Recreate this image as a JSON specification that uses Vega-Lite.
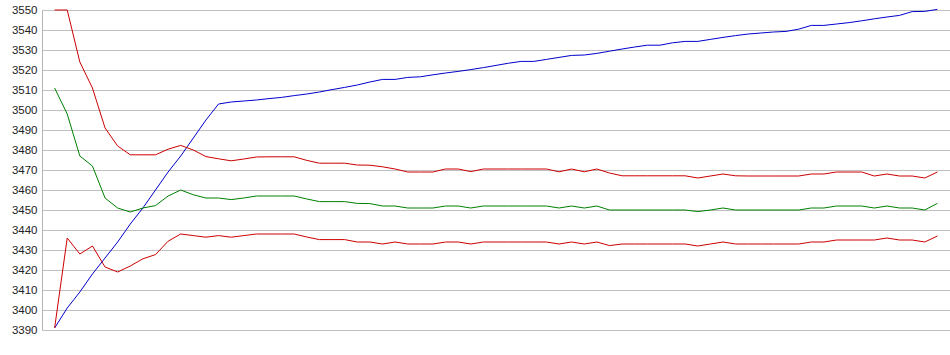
{
  "$schema": "https://vega.github.io/schema/vega-lite/v6.json",
  "autosize": {"type": "none"},
  "width": 908,
  "height": 320,
  "padding": {"left": 42, "top": 10, "right": 0, "bottom": 25},
  "background": "white",
  "config": {"view": {"stroke": null}},
  "data": {"values": [
    {"i": 1, "blue": 3391, "redU": 3550, "green": 3511, "redL": 3391},
    {"i": 2, "blue": 3401, "redU": 3550, "green": 3498, "redL": 3436},
    {"i": 3, "blue": 3409, "redU": 3524, "green": 3477, "redL": 3428},
    {"i": 4, "blue": 3418, "redU": 3511, "green": 3472, "redL": 3432},
    {"i": 5, "blue": 3426, "redU": 3491, "green": 3456, "redL": 3421.5},
    {"i": 6, "blue": 3434, "redU": 3482, "green": 3451, "redL": 3419},
    {"i": 7, "blue": 3443, "redU": 3477.6, "green": 3449, "redL": 3422},
    {"i": 8, "blue": 3451, "redU": 3477.6, "green": 3451, "redL": 3425.6},
    {"i": 9, "blue": 3460, "redU": 3477.6, "green": 3452.2, "redL": 3427.7},
    {"i": 10, "blue": 3469, "redU": 3480.4, "green": 3457, "redL": 3434.4},
    {"i": 11, "blue": 3477, "redU": 3482.3, "green": 3460, "redL": 3438},
    {"i": 12, "blue": 3486, "redU": 3480, "green": 3457.6, "redL": 3437.2},
    {"i": 13, "blue": 3495, "redU": 3476.7, "green": 3456, "redL": 3436.4},
    {"i": 14, "blue": 3503, "redU": 3475.6, "green": 3456, "redL": 3437.2},
    {"i": 15, "blue": 3504, "redU": 3474.6, "green": 3455.2, "redL": 3436.4},
    {"i": 16, "blue": 3504.5, "redU": 3475.5, "green": 3456, "redL": 3437.2},
    {"i": 17, "blue": 3505, "redU": 3476.5, "green": 3457, "redL": 3438},
    {"i": 18, "blue": 3505.7, "redU": 3476.6, "green": 3457, "redL": 3438},
    {"i": 19, "blue": 3506.3, "redU": 3476.6, "green": 3457, "redL": 3438},
    {"i": 20, "blue": 3507.2, "redU": 3476.6, "green": 3457, "redL": 3438},
    {"i": 21, "blue": 3508, "redU": 3474.8, "green": 3455.5, "redL": 3436.5},
    {"i": 22, "blue": 3509, "redU": 3473.4, "green": 3454.2, "redL": 3435.2},
    {"i": 23, "blue": 3510.2, "redU": 3473.4, "green": 3454.2, "redL": 3435.2},
    {"i": 24, "blue": 3511.3, "redU": 3473.4, "green": 3454.2, "redL": 3435.2},
    {"i": 25, "blue": 3512.5, "redU": 3472.5, "green": 3453.3, "redL": 3434},
    {"i": 26, "blue": 3514, "redU": 3472.4, "green": 3453.2, "redL": 3434},
    {"i": 27, "blue": 3515.3, "redU": 3471.6, "green": 3452, "redL": 3433},
    {"i": 28, "blue": 3515.3, "redU": 3470.5, "green": 3452, "redL": 3434},
    {"i": 29, "blue": 3516.3, "redU": 3469, "green": 3451, "redL": 3433},
    {"i": 30, "blue": 3516.6, "redU": 3469, "green": 3451, "redL": 3433},
    {"i": 31, "blue": 3517.6, "redU": 3469, "green": 3451, "redL": 3433},
    {"i": 32, "blue": 3518.5, "redU": 3470.5, "green": 3452, "redL": 3434},
    {"i": 33, "blue": 3519.3, "redU": 3470.5, "green": 3452, "redL": 3434},
    {"i": 34, "blue": 3520.2, "redU": 3469.2, "green": 3451, "redL": 3433},
    {"i": 35, "blue": 3521.2, "redU": 3470.5, "green": 3452, "redL": 3434},
    {"i": 36, "blue": 3522.3, "redU": 3470.5, "green": 3452, "redL": 3434},
    {"i": 37, "blue": 3523.4, "redU": 3470.5, "green": 3452, "redL": 3434},
    {"i": 38, "blue": 3524.3, "redU": 3470.5, "green": 3452, "redL": 3434},
    {"i": 39, "blue": 3524.3, "redU": 3470.5, "green": 3452, "redL": 3434},
    {"i": 40, "blue": 3525.3, "redU": 3470.5, "green": 3452, "redL": 3434},
    {"i": 41, "blue": 3526.3, "redU": 3469.1, "green": 3451, "redL": 3433},
    {"i": 42, "blue": 3527.3, "redU": 3470.5, "green": 3452, "redL": 3434},
    {"i": 43, "blue": 3527.5, "redU": 3469.1, "green": 3451, "redL": 3433},
    {"i": 44, "blue": 3528.3, "redU": 3470.5, "green": 3452, "redL": 3434},
    {"i": 45, "blue": 3529.4, "redU": 3468.5, "green": 3450, "redL": 3432.2},
    {"i": 46, "blue": 3530.5, "redU": 3467.1, "green": 3450, "redL": 3433},
    {"i": 47, "blue": 3531.5, "redU": 3467.1, "green": 3450, "redL": 3433},
    {"i": 48, "blue": 3532.4, "redU": 3467.1, "green": 3450, "redL": 3433},
    {"i": 49, "blue": 3532.4, "redU": 3467.1, "green": 3450, "redL": 3433},
    {"i": 50, "blue": 3533.6, "redU": 3467.1, "green": 3450, "redL": 3433},
    {"i": 51, "blue": 3534.3, "redU": 3467.1, "green": 3450, "redL": 3433},
    {"i": 52, "blue": 3534.3, "redU": 3466, "green": 3449.2, "redL": 3432},
    {"i": 53, "blue": 3535.3, "redU": 3467, "green": 3450, "redL": 3433},
    {"i": 54, "blue": 3536.3, "redU": 3468, "green": 3451, "redL": 3434},
    {"i": 55, "blue": 3537.2, "redU": 3467.1, "green": 3450, "redL": 3433},
    {"i": 56, "blue": 3538, "redU": 3467, "green": 3450, "redL": 3433},
    {"i": 57, "blue": 3538.5, "redU": 3467, "green": 3450, "redL": 3433},
    {"i": 58, "blue": 3539, "redU": 3467, "green": 3450, "redL": 3433},
    {"i": 59, "blue": 3539.3, "redU": 3467, "green": 3450, "redL": 3433},
    {"i": 60, "blue": 3540.4, "redU": 3467, "green": 3450, "redL": 3433},
    {"i": 61, "blue": 3542.3, "redU": 3468, "green": 3451, "redL": 3434},
    {"i": 62, "blue": 3542.3, "redU": 3468, "green": 3451, "redL": 3434},
    {"i": 63, "blue": 3543, "redU": 3469, "green": 3452, "redL": 3435},
    {"i": 64, "blue": 3543.7, "redU": 3469, "green": 3452, "redL": 3435},
    {"i": 65, "blue": 3544.6, "redU": 3469, "green": 3452, "redL": 3435},
    {"i": 66, "blue": 3545.6, "redU": 3467, "green": 3451, "redL": 3435},
    {"i": 67, "blue": 3546.5, "redU": 3468, "green": 3452, "redL": 3436},
    {"i": 68, "blue": 3547.3, "redU": 3467, "green": 3451, "redL": 3435},
    {"i": 69, "blue": 3549.2, "redU": 3467, "green": 3451, "redL": 3435},
    {"i": 70, "blue": 3549.3, "redU": 3466, "green": 3450, "redL": 3434},
    {"i": 71, "blue": 3550.3, "redU": 3469, "green": 3453.3, "redL": 3437}
  ]},
  "transform": [
    {"fold": ["blue", "redU", "green", "redL"], "as": ["series", "v"]}
  ],
  "mark": {"type": "line", "strokeWidth": 1, "clip": false},
  "encoding": {
    "x": {
      "field": "i", "type": "quantitative",
      "scale": {"domain": [0, 72], "nice": false, "zero": false},
      "axis": null
    },
    "y": {
      "field": "v", "type": "quantitative",
      "scale": {"domain": [3390, 3550], "nice": false, "zero": false},
      "axis": {
        "title": null,
        "values": [3390, 3400, 3410, 3420, 3430, 3440, 3450, 3460, 3470, 3480, 3490, 3500, 3510, 3520, 3530, 3540, 3550],
        "format": "d",
        "ticks": false,
        "labelPadding": 5,
        "labelFont": "Liberation Sans",
        "labelFontSize": 11.5,
        "labelColor": "#222222",
        "domainColor": "#b4b4b4",
        "grid": true,
        "gridColor": "#c0c0c0",
        "gridOpacity": 1,
        "gridWidth": 1
      }
    },
    "color": {
      "field": "series", "type": "nominal",
      "scale": {"domain": ["blue", "redU", "green", "redL"], "range": ["#0000cc", "#cc0000", "#008000", "#cc0000"]},
      "legend": null
    },
    "detail": {"field": "series"}
  }
}
